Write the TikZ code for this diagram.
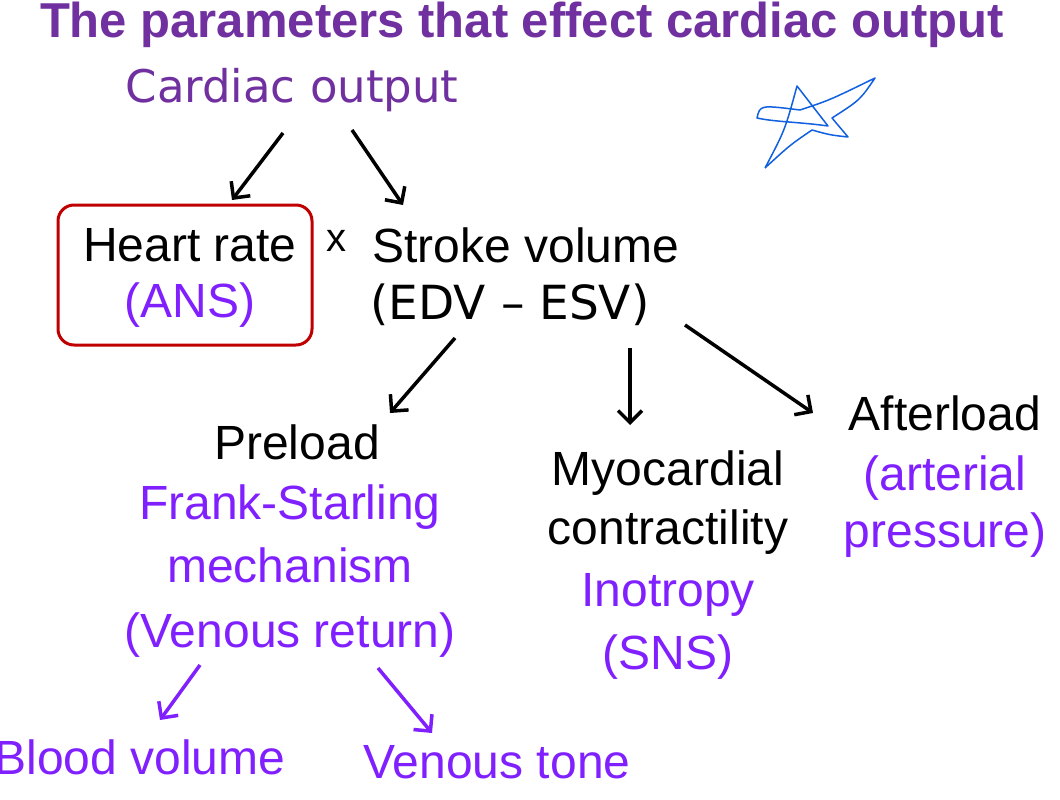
\documentclass[tikz,border=0pt]{standalone}
\usepackage{fontspec}
\setmainfont{Liberation Sans}
\newfontfamily\comicf{DejaVu Sans}
\usetikzlibrary{arrows.meta}
\definecolor{ttl}{HTML}{7030A0}
\definecolor{vio}{HTML}{8020FF}
\definecolor{boxred}{HTML}{C00000}
\definecolor{scrib}{HTML}{1060E0}
\begin{document}
\begin{tikzpicture}[x=1pt,y=-1pt,
  txt/.style={inner sep=0pt,font=\fontsize{48}{52}\selectfont},
  vtxt/.style={txt,text=vio},
  arr/.style={-{Straight Barb[length=12pt,width=24pt]},line width=3.5pt},
  varr/.style={arr,draw=vio}]
\useasboundingbox (0,0) rectangle (1060,800);
\fill[white] (0,0) rectangle (1060,800);
\node[txt,font=\fontsize{49}{52}\selectfont\bfseries,text=ttl] (title) at (522,25) {The parameters that effect cardiac output};
\node[txt,font=\fontsize{45}{48}\selectfont\comicf,text=ttl] (co) at (292,90) {Cardiac output};
\draw[boxred,line width=3pt,rounded corners=16pt] (58,205) rectangle (312,345);
\node[txt] (hr) at (190,245) {Heart rate};
\node[vtxt] (ans) at (190,305) {(ANS)};
\node[txt,font=\fontsize{40}{44}\selectfont] (x) at (336,241) {x};
\node[txt] (sv) at (526,245) {Stroke volume};
\node[txt,font=\fontsize{47}{50}\selectfont\comicf] (edv) at (510,305) {(EDV – ESV)};
\coordinate (a1) at (283,133); \coordinate (b1) at (232,200);
\coordinate (a2) at (352,130); \coordinate (b2) at (403,205);
\draw[arr] (a1) -- (b1);
\draw[arr] (a2) -- (b2);
\node[txt] (pre) at (297,442) {Preload};
\node[vtxt] (fs) at (290,507) {Frank-Starling};
\node[vtxt] (mech) at (290,565) {mechanism};
\node[vtxt] (vr) at (290,635) {(Venous return)};
\node[txt] (myo) at (668,473) {Myocardial};
\node[txt] (con) at (668,532) {contractility};
\node[vtxt] (ino) at (668,595) {Inotropy};
\node[vtxt] (sns) at (668,657) {(SNS)};
\node[txt] (aft) at (945,413) {Afterload};
\node[vtxt] (art) at (945,478) {(arterial};
\node[vtxt] (pres) at (945,535) {pressure)};
\coordinate (c1) at (455,338); \coordinate (d1) at (390,413);
\coordinate (c2) at (630,348); \coordinate (d2) at (630,425);
\coordinate (c3) at (685,325); \coordinate (d3) at (813,413);
\draw[arr] (c1) -- (d1);
\draw[arr] (c2) -- (d2);
\draw[arr] (c3) -- (d3);
\coordinate (e1) at (200,665); \coordinate (f1) at (160,720);
\coordinate (e2) at (378,668); \coordinate (f2) at (432,733);
\draw[varr] (e1) -- (f1);
\draw[varr] (e2) -- (f2);
\node[vtxt] (bv) at (140,757) {Blood volume};
\node[vtxt] (vt) at (497,762) {Venous tone};
\draw[scrib,line width=1.5pt,line join=round] (765,168) .. controls (785,130) .. (797,86) -- (828,126) .. controls (800,122) and (775,122) .. (757,118) .. controls (760,105) .. (800,110) .. controls (830,100) .. (875,78) .. controls (860,100) .. (832,118) -- (848,137) .. controls (830,135) .. (812,130) .. controls (790,145) .. (765,168);
\end{tikzpicture}
\end{document}
